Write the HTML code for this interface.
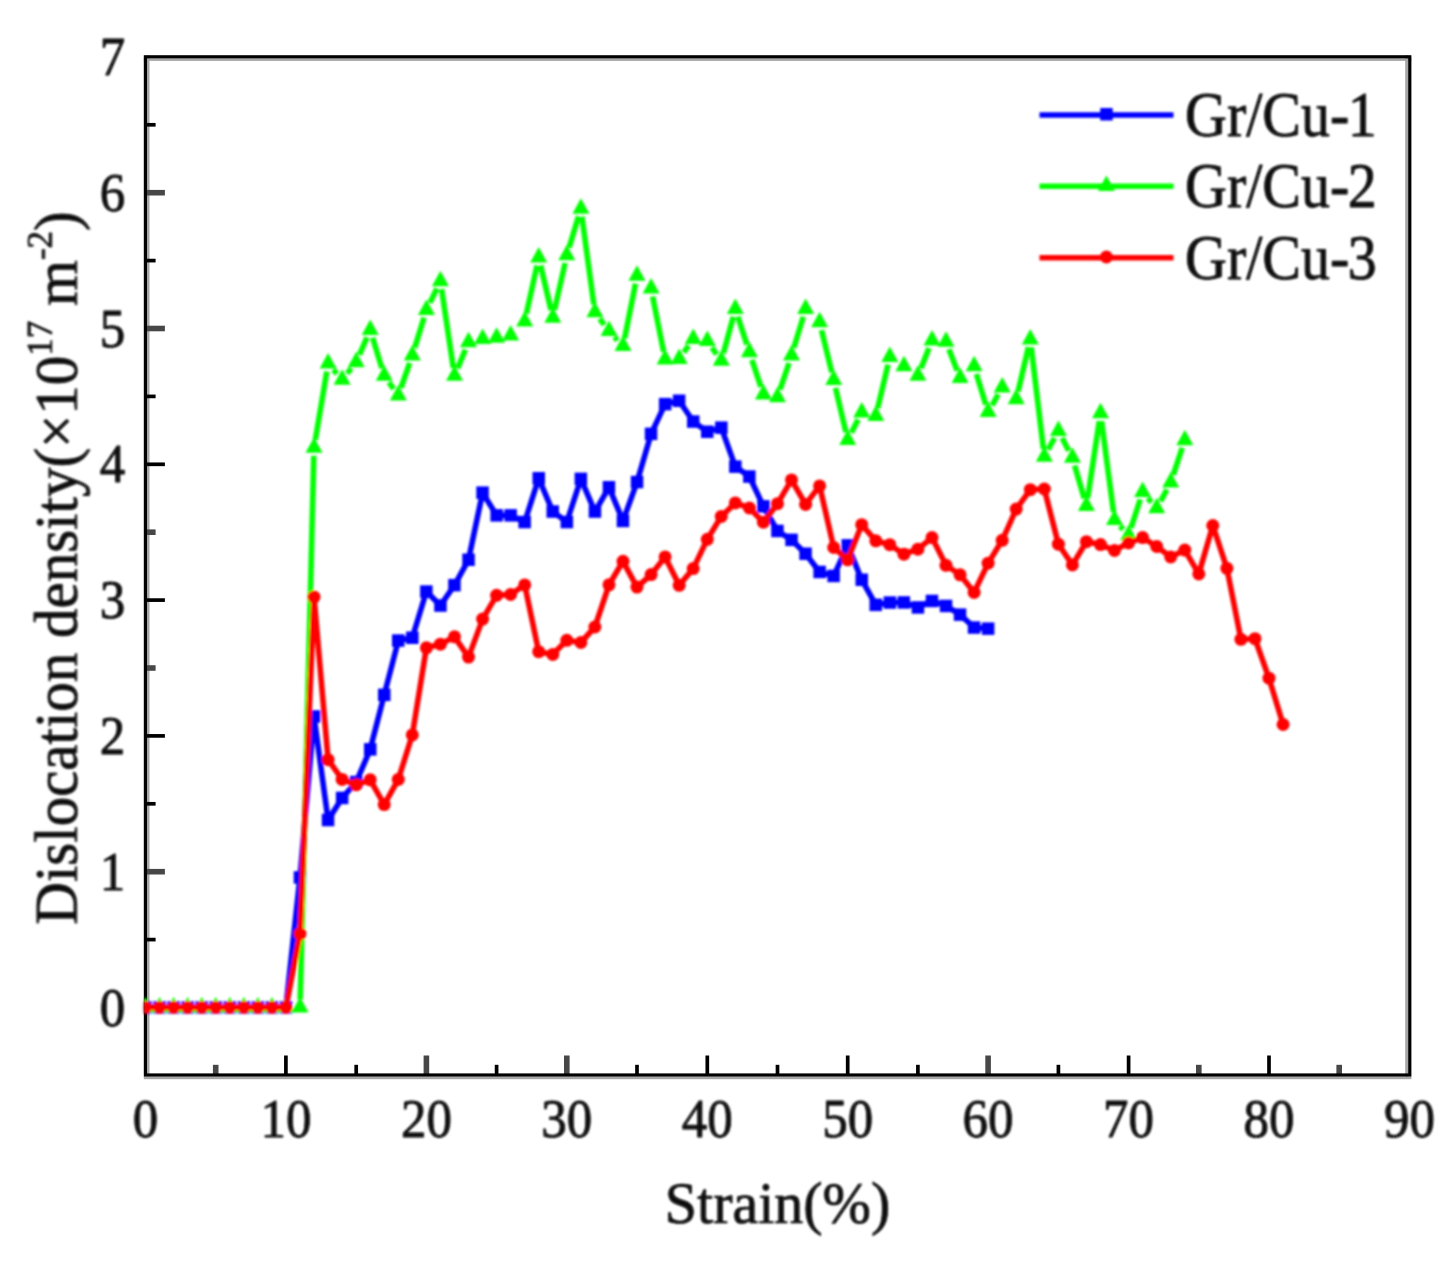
<!DOCTYPE html>
<html><head><meta charset="utf-8"><title>Dislocation density vs strain</title>
<style>
html,body{margin:0;padding:0;background:#fff;}
body{width:1449px;height:1262px;overflow:hidden;font-family:"Liberation Serif",serif;}
svg{display:block;}
svg text{font-family:"Liberation Serif",serif;fill:#080808;stroke:#080808;stroke-width:0.7px;stroke-linejoin:round;}
</style></head>
<body>
<svg width="1449" height="1262" viewBox="0 0 1449 1262">
<defs>
<clipPath id="pc"><rect x="143.8" y="55.2" width="1267.6000000000001" height="1021.3999999999999"/></clipPath>
<filter id="soft" x="0" y="0" width="1449" height="1262" filterUnits="userSpaceOnUse"><feGaussianBlur stdDeviation="1.0"/></filter>
<filter id="soft2" x="0" y="0" width="1449" height="1262" filterUnits="userSpaceOnUse"><feGaussianBlur stdDeviation="0.45"/></filter>
</defs>
<rect width="1449" height="1262" fill="#fff"/>
<g filter="url(#soft2)">
<rect x="147.0" y="55.2" width="2.5" height="1021.3999999999999" fill="#a6a6a6"/>
<rect x="1405.2" y="55.2" width="3.0" height="1021.3999999999999" fill="#a6a6a6"/>
<rect x="143.8" y="58.400000000000006" width="1267.6000000000001" height="2.5" fill="#a6a6a6"/>
<rect x="143.8" y="1076.6" width="1267.6000000000001" height="2.6" fill="#a6a6a6"/>
<line x1="215.7" y1="1075.0" x2="215.7" y2="1064.8" stroke="#474747" stroke-width="5.6"/>
<line x1="285.9" y1="1075.0" x2="285.9" y2="1055.5" stroke="#060606" stroke-width="3.7"/>
<line x1="356.2" y1="1075.0" x2="356.2" y2="1064.8" stroke="#060606" stroke-width="3.7"/>
<line x1="426.4" y1="1075.0" x2="426.4" y2="1055.5" stroke="#474747" stroke-width="5.6"/>
<line x1="496.6" y1="1075.0" x2="496.6" y2="1064.8" stroke="#060606" stroke-width="3.7"/>
<line x1="566.8" y1="1075.0" x2="566.8" y2="1055.5" stroke="#474747" stroke-width="5.6"/>
<line x1="637.0" y1="1075.0" x2="637.0" y2="1064.8" stroke="#060606" stroke-width="3.7"/>
<line x1="707.3" y1="1075.0" x2="707.3" y2="1055.5" stroke="#060606" stroke-width="3.7"/>
<line x1="777.5" y1="1075.0" x2="777.5" y2="1064.8" stroke="#060606" stroke-width="3.7"/>
<line x1="847.7" y1="1075.0" x2="847.7" y2="1055.5" stroke="#060606" stroke-width="3.7"/>
<line x1="917.9" y1="1075.0" x2="917.9" y2="1064.8" stroke="#060606" stroke-width="3.7"/>
<line x1="988.1" y1="1075.0" x2="988.1" y2="1055.5" stroke="#474747" stroke-width="5.6"/>
<line x1="1058.4" y1="1075.0" x2="1058.4" y2="1064.8" stroke="#060606" stroke-width="3.7"/>
<line x1="1128.6" y1="1075.0" x2="1128.6" y2="1055.5" stroke="#060606" stroke-width="3.7"/>
<line x1="1198.8" y1="1075.0" x2="1198.8" y2="1064.8" stroke="#474747" stroke-width="5.6"/>
<line x1="1269.0" y1="1075.0" x2="1269.0" y2="1055.5" stroke="#060606" stroke-width="3.7"/>
<line x1="1339.2" y1="1075.0" x2="1339.2" y2="1064.8" stroke="#474747" stroke-width="5.6"/>
<line x1="145.4" y1="1007.5" x2="164.9" y2="1007.5" stroke="#060606" stroke-width="3.7"/>
<line x1="145.4" y1="939.6" x2="155.6" y2="939.6" stroke="#060606" stroke-width="3.7"/>
<line x1="145.4" y1="871.7" x2="164.9" y2="871.7" stroke="#474747" stroke-width="5.6"/>
<line x1="145.4" y1="803.8" x2="155.6" y2="803.8" stroke="#060606" stroke-width="3.7"/>
<line x1="145.4" y1="735.9" x2="164.9" y2="735.9" stroke="#060606" stroke-width="3.7"/>
<line x1="145.4" y1="668.0" x2="155.6" y2="668.0" stroke="#474747" stroke-width="5.6"/>
<line x1="145.4" y1="600.1" x2="164.9" y2="600.1" stroke="#060606" stroke-width="3.7"/>
<line x1="145.4" y1="532.2" x2="155.6" y2="532.2" stroke="#474747" stroke-width="5.6"/>
<line x1="145.4" y1="464.3" x2="164.9" y2="464.3" stroke="#060606" stroke-width="3.7"/>
<line x1="145.4" y1="396.4" x2="155.6" y2="396.4" stroke="#060606" stroke-width="3.7"/>
<line x1="145.4" y1="328.5" x2="164.9" y2="328.5" stroke="#474747" stroke-width="5.6"/>
<line x1="145.4" y1="260.6" x2="155.6" y2="260.6" stroke="#060606" stroke-width="3.7"/>
<line x1="145.4" y1="192.7" x2="164.9" y2="192.7" stroke="#474747" stroke-width="5.6"/>
<line x1="145.4" y1="124.8" x2="155.6" y2="124.8" stroke="#060606" stroke-width="3.7"/>
<rect x="145.4" y="56.800000000000004" width="1264.4" height="1018.2" fill="none" stroke="#000" stroke-width="3.2"/>
</g>
<g filter="url(#soft)">
<g clip-path="url(#pc)">
<path d="M145.5 1007.5L159.5 1007.5M159.5 1007.5L173.6 1007.5M173.6 1007.5L187.6 1007.5M187.6 1007.5L201.7 1007.5M201.7 1007.5L215.7 1007.5M215.7 1007.5L229.8 1007.5M229.8 1007.5L243.8 1007.5M243.8 1007.5L257.9 1007.5M257.9 1007.5L271.9 1007.5M271.9 1007.5L285.9 1007.5M285.9 1007.5L300.0 877.4M300.0 877.4L314.0 716.5M314.0 716.5L328.1 820.1M328.1 820.1L342.1 798.0M342.1 798.0L356.2 782.1M356.2 782.1L370.2 749.3M370.2 749.3L384.2 694.9M384.2 694.9L398.3 640.6M398.3 640.6L412.3 637.7M412.3 637.7L426.4 591.5M426.4 591.5L440.4 605.5M440.4 605.5L454.5 585.2M454.5 585.2L468.5 559.8M468.5 559.8L482.6 492.7M482.6 492.7L496.6 515.4M496.6 515.4L510.6 515.4M510.6 515.4L524.7 522.0M524.7 522.0L538.7 478.3M538.7 478.3L552.8 511.6M552.8 511.6L566.8 522.0M566.8 522.0L580.9 478.8M580.9 478.8L594.9 511.6M594.9 511.6L609.0 487.3M609.0 487.3L623.0 520.9M623.0 520.9L637.0 482.1M637.0 482.1L651.1 433.9M651.1 433.9L665.1 404.1M665.1 404.1L679.2 400.7M679.2 400.7L693.2 421.5M693.2 421.5L707.3 431.7M707.3 431.7L721.3 427.6M721.3 427.6L735.3 466.6M735.3 466.6L749.4 476.5M749.4 476.5L763.4 506.4M763.4 506.4L777.5 531.0M777.5 531.0L791.5 539.8M791.5 539.8L805.6 553.8M805.6 553.8L819.6 572.0M819.6 572.0L833.7 575.9M833.7 575.9L847.7 545.4M847.7 545.4L861.7 579.7M861.7 579.7L875.8 604.9M875.8 604.9L889.8 602.5M889.8 602.5L903.9 602.4M903.9 602.4L917.9 607.4M917.9 607.4L932.0 600.9M932.0 600.9L946.0 605.9M946.0 605.9L960.1 614.6M960.1 614.6L974.1 627.5M974.1 627.5L988.1 628.6" fill="none" stroke="#0000ff" stroke-width="5.6" stroke-linecap="round"/>
<rect x="139.2" y="1001.2" width="12.5" height="12.5" fill="#0000ff"/>
<rect x="153.3" y="1001.2" width="12.5" height="12.5" fill="#0000ff"/>
<rect x="167.3" y="1001.2" width="12.5" height="12.5" fill="#0000ff"/>
<rect x="181.4" y="1001.2" width="12.5" height="12.5" fill="#0000ff"/>
<rect x="195.4" y="1001.2" width="12.5" height="12.5" fill="#0000ff"/>
<rect x="209.5" y="1001.2" width="12.5" height="12.5" fill="#0000ff"/>
<rect x="223.5" y="1001.2" width="12.5" height="12.5" fill="#0000ff"/>
<rect x="237.6" y="1001.2" width="12.5" height="12.5" fill="#0000ff"/>
<rect x="251.6" y="1001.2" width="12.5" height="12.5" fill="#0000ff"/>
<rect x="265.6" y="1001.2" width="12.5" height="12.5" fill="#0000ff"/>
<rect x="279.7" y="1001.2" width="12.5" height="12.5" fill="#0000ff"/>
<rect x="293.7" y="871.2" width="12.5" height="12.5" fill="#0000ff"/>
<rect x="307.8" y="710.2" width="12.5" height="12.5" fill="#0000ff"/>
<rect x="321.8" y="813.8" width="12.5" height="12.5" fill="#0000ff"/>
<rect x="335.9" y="791.7" width="12.5" height="12.5" fill="#0000ff"/>
<rect x="349.9" y="775.8" width="12.5" height="12.5" fill="#0000ff"/>
<rect x="364.0" y="743.1" width="12.5" height="12.5" fill="#0000ff"/>
<rect x="378.0" y="688.6" width="12.5" height="12.5" fill="#0000ff"/>
<rect x="392.0" y="634.3" width="12.5" height="12.5" fill="#0000ff"/>
<rect x="406.1" y="631.5" width="12.5" height="12.5" fill="#0000ff"/>
<rect x="420.1" y="585.3" width="12.5" height="12.5" fill="#0000ff"/>
<rect x="434.2" y="599.3" width="12.5" height="12.5" fill="#0000ff"/>
<rect x="448.2" y="578.9" width="12.5" height="12.5" fill="#0000ff"/>
<rect x="462.3" y="553.5" width="12.5" height="12.5" fill="#0000ff"/>
<rect x="476.3" y="486.4" width="12.5" height="12.5" fill="#0000ff"/>
<rect x="490.4" y="509.1" width="12.5" height="12.5" fill="#0000ff"/>
<rect x="504.4" y="509.1" width="12.5" height="12.5" fill="#0000ff"/>
<rect x="518.4" y="515.8" width="12.5" height="12.5" fill="#0000ff"/>
<rect x="532.5" y="472.0" width="12.5" height="12.5" fill="#0000ff"/>
<rect x="546.5" y="505.3" width="12.5" height="12.5" fill="#0000ff"/>
<rect x="560.6" y="515.8" width="12.5" height="12.5" fill="#0000ff"/>
<rect x="574.6" y="472.6" width="12.5" height="12.5" fill="#0000ff"/>
<rect x="588.7" y="505.3" width="12.5" height="12.5" fill="#0000ff"/>
<rect x="602.7" y="481.0" width="12.5" height="12.5" fill="#0000ff"/>
<rect x="616.7" y="514.7" width="12.5" height="12.5" fill="#0000ff"/>
<rect x="630.8" y="475.8" width="12.5" height="12.5" fill="#0000ff"/>
<rect x="644.8" y="427.6" width="12.5" height="12.5" fill="#0000ff"/>
<rect x="658.9" y="397.9" width="12.5" height="12.5" fill="#0000ff"/>
<rect x="672.9" y="394.5" width="12.5" height="12.5" fill="#0000ff"/>
<rect x="687.0" y="415.3" width="12.5" height="12.5" fill="#0000ff"/>
<rect x="701.0" y="425.5" width="12.5" height="12.5" fill="#0000ff"/>
<rect x="715.1" y="421.4" width="12.5" height="12.5" fill="#0000ff"/>
<rect x="729.1" y="460.4" width="12.5" height="12.5" fill="#0000ff"/>
<rect x="743.1" y="470.3" width="12.5" height="12.5" fill="#0000ff"/>
<rect x="757.2" y="500.1" width="12.5" height="12.5" fill="#0000ff"/>
<rect x="771.2" y="524.7" width="12.5" height="12.5" fill="#0000ff"/>
<rect x="785.3" y="533.6" width="12.5" height="12.5" fill="#0000ff"/>
<rect x="799.3" y="547.5" width="12.5" height="12.5" fill="#0000ff"/>
<rect x="813.4" y="565.7" width="12.5" height="12.5" fill="#0000ff"/>
<rect x="827.4" y="569.7" width="12.5" height="12.5" fill="#0000ff"/>
<rect x="841.5" y="539.1" width="12.5" height="12.5" fill="#0000ff"/>
<rect x="855.5" y="573.5" width="12.5" height="12.5" fill="#0000ff"/>
<rect x="869.5" y="598.6" width="12.5" height="12.5" fill="#0000ff"/>
<rect x="883.6" y="596.3" width="12.5" height="12.5" fill="#0000ff"/>
<rect x="897.6" y="596.2" width="12.5" height="12.5" fill="#0000ff"/>
<rect x="911.7" y="601.2" width="12.5" height="12.5" fill="#0000ff"/>
<rect x="925.7" y="594.7" width="12.5" height="12.5" fill="#0000ff"/>
<rect x="939.8" y="599.7" width="12.5" height="12.5" fill="#0000ff"/>
<rect x="953.8" y="608.4" width="12.5" height="12.5" fill="#0000ff"/>
<rect x="967.8" y="621.3" width="12.5" height="12.5" fill="#0000ff"/>
<rect x="981.9" y="622.4" width="12.5" height="12.5" fill="#0000ff"/>
<path d="M300.2 999.5L313.8 455.8M315.3 439.9L326.8 371.5M333.3 369.7L336.9 373.8M347.1 373.6L351.2 368.5M359.4 354.9L367.0 337.4M372.6 337.7L381.9 368.2M388.9 382.3L393.6 389.0M400.9 388.0L409.7 363.0M414.7 347.8L424.0 317.7M429.9 302.9L436.9 288.5M441.6 289.2L453.3 367.9M457.6 368.4L465.4 349.7M526.4 313.7L537.0 265.5M540.6 265.5L551.0 310.0M554.5 310.0L565.1 263.0M569.1 247.6L578.5 216.4M581.9 216.7L593.8 304.3M599.7 318.7L604.2 324.7M614.4 337.0L617.5 340.4M624.6 338.4L635.5 283.6M652.6 296.5L663.6 351.7M683.8 352.4L688.6 345.7M711.9 347.7L716.7 354.4M723.4 353.2L733.3 316.7M737.8 316.6L746.9 344.7M751.9 359.9L760.9 386.8M780.0 389.7L789.0 363.2M793.8 347.9L803.3 316.7M821.5 330.1L831.8 372.3M835.5 387.8L845.9 432.1M851.3 432.8L858.1 419.6M877.6 408.4L888.0 364.7M920.9 368.4L929.0 348.1M948.9 349.3L957.2 370.7M976.4 374.0L985.8 404.6M992.1 405.3L998.2 394.4M1018.1 391.5L1028.4 347.2M1031.2 347.4L1043.4 448.8M1048.1 449.7L1054.5 438.0M1062.1 438.0L1068.7 450.7M1074.6 465.5L1084.2 498.4M1087.6 498.1L1099.3 421.2M1101.5 421.2L1113.5 512.2M1120.0 526.0L1123.2 529.5M1131.0 527.8L1140.2 499.5M1147.8 498.0L1151.5 502.3M1160.5 501.3L1166.9 489.6M1173.2 475.0L1182.2 447.9" fill="none" stroke="#00ff00" stroke-width="5.6" stroke-linecap="butt"/>
<path d="M145.5 996.9L154.0 1012.4L137.0 1012.4Z" fill="#00ff00"/>
<path d="M159.5 996.9L168.0 1012.4L151.0 1012.4Z" fill="#00ff00"/>
<path d="M173.6 996.9L182.1 1012.4L165.1 1012.4Z" fill="#00ff00"/>
<path d="M187.6 996.9L196.1 1012.4L179.1 1012.4Z" fill="#00ff00"/>
<path d="M201.7 996.9L210.2 1012.4L193.2 1012.4Z" fill="#00ff00"/>
<path d="M215.7 996.9L224.2 1012.4L207.2 1012.4Z" fill="#00ff00"/>
<path d="M229.8 996.9L238.3 1012.4L221.3 1012.4Z" fill="#00ff00"/>
<path d="M243.8 996.9L252.3 1012.4L235.3 1012.4Z" fill="#00ff00"/>
<path d="M257.9 996.9L266.4 1012.4L249.4 1012.4Z" fill="#00ff00"/>
<path d="M271.9 996.9L280.4 1012.4L263.4 1012.4Z" fill="#00ff00"/>
<path d="M285.9 996.9L294.4 1012.4L277.4 1012.4Z" fill="#00ff00"/>
<path d="M300.0 996.9L308.5 1012.4L291.5 1012.4Z" fill="#00ff00"/>
<path d="M314.0 437.2L322.5 452.7L305.5 452.7Z" fill="#00ff00"/>
<path d="M328.1 353.0L336.6 368.5L319.6 368.5Z" fill="#00ff00"/>
<path d="M342.1 369.3L350.6 384.8L333.6 384.8Z" fill="#00ff00"/>
<path d="M356.2 351.7L364.7 367.2L347.7 367.2Z" fill="#00ff00"/>
<path d="M370.2 319.5L378.7 335.0L361.7 335.0Z" fill="#00ff00"/>
<path d="M384.2 365.3L392.7 380.8L375.7 380.8Z" fill="#00ff00"/>
<path d="M398.3 384.9L406.8 400.4L389.8 400.4Z" fill="#00ff00"/>
<path d="M412.3 344.9L420.8 360.4L403.8 360.4Z" fill="#00ff00"/>
<path d="M426.4 299.5L434.9 315.0L417.9 315.0Z" fill="#00ff00"/>
<path d="M440.4 270.7L448.9 286.2L431.9 286.2Z" fill="#00ff00"/>
<path d="M454.5 365.3L463.0 380.8L446.0 380.8Z" fill="#00ff00"/>
<path d="M468.5 331.7L477.0 347.2L460.0 347.2Z" fill="#00ff00"/>
<path d="M482.6 328.6L491.1 344.1L474.1 344.1Z" fill="#00ff00"/>
<path d="M496.6 327.2L505.1 342.7L488.1 342.7Z" fill="#00ff00"/>
<path d="M510.6 325.1L519.1 340.6L502.1 340.6Z" fill="#00ff00"/>
<path d="M524.7 310.9L533.2 326.4L516.2 326.4Z" fill="#00ff00"/>
<path d="M538.7 247.1L547.2 262.6L530.2 262.6Z" fill="#00ff00"/>
<path d="M552.8 307.3L561.3 322.8L544.3 322.8Z" fill="#00ff00"/>
<path d="M566.8 244.7L575.3 260.2L558.3 260.2Z" fill="#00ff00"/>
<path d="M580.9 198.2L589.4 213.7L572.4 213.7Z" fill="#00ff00"/>
<path d="M594.9 301.7L603.4 317.2L586.4 317.2Z" fill="#00ff00"/>
<path d="M609.0 320.6L617.5 336.1L600.5 336.1Z" fill="#00ff00"/>
<path d="M623.0 335.6L631.5 351.1L614.5 351.1Z" fill="#00ff00"/>
<path d="M637.0 265.2L645.5 280.7L628.5 280.7Z" fill="#00ff00"/>
<path d="M651.1 278.1L659.6 293.6L642.6 293.6Z" fill="#00ff00"/>
<path d="M665.1 349.0L673.6 364.5L656.6 364.5Z" fill="#00ff00"/>
<path d="M679.2 348.4L687.7 363.9L670.7 363.9Z" fill="#00ff00"/>
<path d="M693.2 328.6L701.7 344.1L684.7 344.1Z" fill="#00ff00"/>
<path d="M707.3 330.6L715.8 346.1L698.8 346.1Z" fill="#00ff00"/>
<path d="M721.3 350.3L729.8 365.8L712.8 365.8Z" fill="#00ff00"/>
<path d="M735.3 298.4L743.8 313.9L726.8 313.9Z" fill="#00ff00"/>
<path d="M749.4 341.8L757.9 357.3L740.9 357.3Z" fill="#00ff00"/>
<path d="M763.4 383.9L771.9 399.4L754.9 399.4Z" fill="#00ff00"/>
<path d="M777.5 386.7L786.0 402.2L769.0 402.2Z" fill="#00ff00"/>
<path d="M791.5 345.0L800.0 360.5L783.0 360.5Z" fill="#00ff00"/>
<path d="M805.6 298.4L814.1 313.9L797.1 313.9Z" fill="#00ff00"/>
<path d="M819.6 311.7L828.1 327.2L811.1 327.2Z" fill="#00ff00"/>
<path d="M833.7 369.5L842.2 385.0L825.2 385.0Z" fill="#00ff00"/>
<path d="M847.7 429.4L856.2 444.9L839.2 444.9Z" fill="#00ff00"/>
<path d="M861.7 401.9L870.2 417.4L853.2 417.4Z" fill="#00ff00"/>
<path d="M875.8 405.6L884.3 421.1L867.3 421.1Z" fill="#00ff00"/>
<path d="M889.8 346.4L898.3 361.9L881.3 361.9Z" fill="#00ff00"/>
<path d="M903.9 355.7L912.4 371.2L895.4 371.2Z" fill="#00ff00"/>
<path d="M917.9 365.3L926.4 380.8L909.4 380.8Z" fill="#00ff00"/>
<path d="M932.0 330.1L940.5 345.6L923.5 345.6Z" fill="#00ff00"/>
<path d="M946.0 331.3L954.5 346.8L937.5 346.8Z" fill="#00ff00"/>
<path d="M960.1 367.6L968.6 383.1L951.6 383.1Z" fill="#00ff00"/>
<path d="M974.1 355.7L982.6 371.2L965.6 371.2Z" fill="#00ff00"/>
<path d="M988.1 401.6L996.6 417.1L979.6 417.1Z" fill="#00ff00"/>
<path d="M1002.2 376.9L1010.7 392.4L993.7 392.4Z" fill="#00ff00"/>
<path d="M1016.2 388.7L1024.7 404.2L1007.7 404.2Z" fill="#00ff00"/>
<path d="M1030.3 328.9L1038.8 344.4L1021.8 344.4Z" fill="#00ff00"/>
<path d="M1044.3 446.2L1052.8 461.7L1035.8 461.7Z" fill="#00ff00"/>
<path d="M1058.4 420.4L1066.9 435.9L1049.9 435.9Z" fill="#00ff00"/>
<path d="M1072.4 447.3L1080.9 462.8L1063.9 462.8Z" fill="#00ff00"/>
<path d="M1086.4 495.5L1094.9 511.0L1077.9 511.0Z" fill="#00ff00"/>
<path d="M1100.5 402.7L1109.0 418.2L1092.0 418.2Z" fill="#00ff00"/>
<path d="M1114.5 509.6L1123.0 525.1L1106.0 525.1Z" fill="#00ff00"/>
<path d="M1128.6 524.8L1137.1 540.3L1120.1 540.3Z" fill="#00ff00"/>
<path d="M1142.6 481.4L1151.1 496.9L1134.1 496.9Z" fill="#00ff00"/>
<path d="M1156.7 497.8L1165.2 513.3L1148.2 513.3Z" fill="#00ff00"/>
<path d="M1170.7 472.0L1179.2 487.5L1162.2 487.5Z" fill="#00ff00"/>
<path d="M1184.8 429.8L1193.3 445.3L1176.3 445.3Z" fill="#00ff00"/>
<path d="M145.5 1007.5L159.5 1007.5M159.5 1007.5L173.6 1007.5M173.6 1007.5L187.6 1007.5M187.6 1007.5L201.7 1007.5M201.7 1007.5L215.7 1007.5M215.7 1007.5L229.8 1007.5M229.8 1007.5L243.8 1007.5M243.8 1007.5L257.9 1007.5M257.9 1007.5L271.9 1007.5M271.9 1007.5L285.9 1007.5M285.9 1007.5L300.0 933.8M300.0 933.8L314.0 597.1M314.0 597.1L328.1 759.7M328.1 759.7L342.1 779.4M342.1 779.4L356.2 784.8M356.2 784.8L370.2 779.8M370.2 779.8L384.2 804.6M384.2 804.6L398.3 779.4M398.3 779.4L412.3 734.9M412.3 734.9L426.4 647.8M426.4 647.8L440.4 644.2M440.4 644.2L454.5 636.8M454.5 636.8L468.5 657.1M468.5 657.1L482.6 619.1M482.6 619.1L496.6 595.3M496.6 595.3L510.6 594.5M510.6 594.5L524.7 584.9M524.7 584.9L538.7 651.7M538.7 651.7L552.8 654.4M552.8 654.4L566.8 640.3M566.8 640.3L580.9 642.5M580.9 642.5L594.9 627.0M594.9 627.0L609.0 584.8M609.0 584.8L623.0 561.3M623.0 561.3L637.0 587.1M637.0 587.1L651.1 574.6M651.1 574.6L665.1 556.9M665.1 556.9L679.2 585.3M679.2 585.3L693.2 568.6M693.2 568.6L707.3 539.3M707.3 539.3L721.3 516.4M721.3 516.4L735.3 502.9M735.3 502.9L749.4 508.0M749.4 508.0L763.4 522.2M763.4 522.2L777.5 503.7M777.5 503.7L791.5 479.9M791.5 479.9L805.6 504.4M805.6 504.4L819.6 485.9M819.6 485.9L833.7 547.5M833.7 547.5L847.7 559.8M847.7 559.8L861.7 524.7M861.7 524.7L875.8 540.8M875.8 540.8L889.8 544.7M889.8 544.7L903.9 554.2M903.9 554.2L917.9 549.2M917.9 549.2L932.0 537.6M932.0 537.6L946.0 565.3M946.0 565.3L960.1 574.8M960.1 574.8L974.1 592.4M974.1 592.4L988.1 563.2M988.1 563.2L1002.2 540.3M1002.2 540.3L1016.2 509.1M1016.2 509.1L1030.3 489.7M1030.3 489.7L1044.3 489.0M1044.3 489.0L1058.4 544.2M1058.4 544.2L1072.4 564.9M1072.4 564.9L1086.4 541.7M1086.4 541.7L1100.5 544.6M1100.5 544.6L1114.5 550.5M1114.5 550.5L1128.6 542.9M1128.6 542.9L1142.6 537.6M1142.6 537.6L1156.7 546.5M1156.7 546.5L1170.7 556.9M1170.7 556.9L1184.8 550.1M1184.8 550.1L1198.8 573.9M1198.8 573.9L1212.8 525.5M1212.8 525.5L1226.9 568.3M1226.9 568.3L1240.9 639.3M1240.9 639.3L1255.0 638.7M1255.0 638.7L1269.0 678.2M1269.0 678.2L1283.1 724.5" fill="none" stroke="#ff0000" stroke-width="5.6" stroke-linecap="round"/>
<circle cx="145.5" cy="1007.5" r="6.5" fill="#ff0000"/>
<circle cx="159.5" cy="1007.5" r="6.5" fill="#ff0000"/>
<circle cx="173.6" cy="1007.5" r="6.5" fill="#ff0000"/>
<circle cx="187.6" cy="1007.5" r="6.5" fill="#ff0000"/>
<circle cx="201.7" cy="1007.5" r="6.5" fill="#ff0000"/>
<circle cx="215.7" cy="1007.5" r="6.5" fill="#ff0000"/>
<circle cx="229.8" cy="1007.5" r="6.5" fill="#ff0000"/>
<circle cx="243.8" cy="1007.5" r="6.5" fill="#ff0000"/>
<circle cx="257.9" cy="1007.5" r="6.5" fill="#ff0000"/>
<circle cx="271.9" cy="1007.5" r="6.5" fill="#ff0000"/>
<circle cx="285.9" cy="1007.5" r="6.5" fill="#ff0000"/>
<circle cx="300.0" cy="933.8" r="6.5" fill="#ff0000"/>
<circle cx="314.0" cy="597.1" r="6.5" fill="#ff0000"/>
<circle cx="328.1" cy="759.7" r="6.5" fill="#ff0000"/>
<circle cx="342.1" cy="779.4" r="6.5" fill="#ff0000"/>
<circle cx="356.2" cy="784.8" r="6.5" fill="#ff0000"/>
<circle cx="370.2" cy="779.8" r="6.5" fill="#ff0000"/>
<circle cx="384.2" cy="804.6" r="6.5" fill="#ff0000"/>
<circle cx="398.3" cy="779.4" r="6.5" fill="#ff0000"/>
<circle cx="412.3" cy="734.9" r="6.5" fill="#ff0000"/>
<circle cx="426.4" cy="647.8" r="6.5" fill="#ff0000"/>
<circle cx="440.4" cy="644.2" r="6.5" fill="#ff0000"/>
<circle cx="454.5" cy="636.8" r="6.5" fill="#ff0000"/>
<circle cx="468.5" cy="657.1" r="6.5" fill="#ff0000"/>
<circle cx="482.6" cy="619.1" r="6.5" fill="#ff0000"/>
<circle cx="496.6" cy="595.3" r="6.5" fill="#ff0000"/>
<circle cx="510.6" cy="594.5" r="6.5" fill="#ff0000"/>
<circle cx="524.7" cy="584.9" r="6.5" fill="#ff0000"/>
<circle cx="538.7" cy="651.7" r="6.5" fill="#ff0000"/>
<circle cx="552.8" cy="654.4" r="6.5" fill="#ff0000"/>
<circle cx="566.8" cy="640.3" r="6.5" fill="#ff0000"/>
<circle cx="580.9" cy="642.5" r="6.5" fill="#ff0000"/>
<circle cx="594.9" cy="627.0" r="6.5" fill="#ff0000"/>
<circle cx="609.0" cy="584.8" r="6.5" fill="#ff0000"/>
<circle cx="623.0" cy="561.3" r="6.5" fill="#ff0000"/>
<circle cx="637.0" cy="587.1" r="6.5" fill="#ff0000"/>
<circle cx="651.1" cy="574.6" r="6.5" fill="#ff0000"/>
<circle cx="665.1" cy="556.9" r="6.5" fill="#ff0000"/>
<circle cx="679.2" cy="585.3" r="6.5" fill="#ff0000"/>
<circle cx="693.2" cy="568.6" r="6.5" fill="#ff0000"/>
<circle cx="707.3" cy="539.3" r="6.5" fill="#ff0000"/>
<circle cx="721.3" cy="516.4" r="6.5" fill="#ff0000"/>
<circle cx="735.3" cy="502.9" r="6.5" fill="#ff0000"/>
<circle cx="749.4" cy="508.0" r="6.5" fill="#ff0000"/>
<circle cx="763.4" cy="522.2" r="6.5" fill="#ff0000"/>
<circle cx="777.5" cy="503.7" r="6.5" fill="#ff0000"/>
<circle cx="791.5" cy="479.9" r="6.5" fill="#ff0000"/>
<circle cx="805.6" cy="504.4" r="6.5" fill="#ff0000"/>
<circle cx="819.6" cy="485.9" r="6.5" fill="#ff0000"/>
<circle cx="833.7" cy="547.5" r="6.5" fill="#ff0000"/>
<circle cx="847.7" cy="559.8" r="6.5" fill="#ff0000"/>
<circle cx="861.7" cy="524.7" r="6.5" fill="#ff0000"/>
<circle cx="875.8" cy="540.8" r="6.5" fill="#ff0000"/>
<circle cx="889.8" cy="544.7" r="6.5" fill="#ff0000"/>
<circle cx="903.9" cy="554.2" r="6.5" fill="#ff0000"/>
<circle cx="917.9" cy="549.2" r="6.5" fill="#ff0000"/>
<circle cx="932.0" cy="537.6" r="6.5" fill="#ff0000"/>
<circle cx="946.0" cy="565.3" r="6.5" fill="#ff0000"/>
<circle cx="960.1" cy="574.8" r="6.5" fill="#ff0000"/>
<circle cx="974.1" cy="592.4" r="6.5" fill="#ff0000"/>
<circle cx="988.1" cy="563.2" r="6.5" fill="#ff0000"/>
<circle cx="1002.2" cy="540.3" r="6.5" fill="#ff0000"/>
<circle cx="1016.2" cy="509.1" r="6.5" fill="#ff0000"/>
<circle cx="1030.3" cy="489.7" r="6.5" fill="#ff0000"/>
<circle cx="1044.3" cy="489.0" r="6.5" fill="#ff0000"/>
<circle cx="1058.4" cy="544.2" r="6.5" fill="#ff0000"/>
<circle cx="1072.4" cy="564.9" r="6.5" fill="#ff0000"/>
<circle cx="1086.4" cy="541.7" r="6.5" fill="#ff0000"/>
<circle cx="1100.5" cy="544.6" r="6.5" fill="#ff0000"/>
<circle cx="1114.5" cy="550.5" r="6.5" fill="#ff0000"/>
<circle cx="1128.6" cy="542.9" r="6.5" fill="#ff0000"/>
<circle cx="1142.6" cy="537.6" r="6.5" fill="#ff0000"/>
<circle cx="1156.7" cy="546.5" r="6.5" fill="#ff0000"/>
<circle cx="1170.7" cy="556.9" r="6.5" fill="#ff0000"/>
<circle cx="1184.8" cy="550.1" r="6.5" fill="#ff0000"/>
<circle cx="1198.8" cy="573.9" r="6.5" fill="#ff0000"/>
<circle cx="1212.8" cy="525.5" r="6.5" fill="#ff0000"/>
<circle cx="1226.9" cy="568.3" r="6.5" fill="#ff0000"/>
<circle cx="1240.9" cy="639.3" r="6.5" fill="#ff0000"/>
<circle cx="1255.0" cy="638.7" r="6.5" fill="#ff0000"/>
<circle cx="1269.0" cy="678.2" r="6.5" fill="#ff0000"/>
<circle cx="1283.1" cy="724.5" r="6.5" fill="#ff0000"/>
</g>
<text transform="translate(145.5,1136.8) scale(1,1.08)" font-size="51" text-anchor="middle">0</text>
<text transform="translate(285.9,1136.8) scale(1,1.08)" font-size="51" text-anchor="middle">10</text>
<text transform="translate(426.4,1136.8) scale(1,1.08)" font-size="51" text-anchor="middle">20</text>
<text transform="translate(566.8,1136.8) scale(1,1.08)" font-size="51" text-anchor="middle">30</text>
<text transform="translate(707.3,1136.8) scale(1,1.08)" font-size="51" text-anchor="middle">40</text>
<text transform="translate(847.7,1136.8) scale(1,1.08)" font-size="51" text-anchor="middle">50</text>
<text transform="translate(988.1,1136.8) scale(1,1.08)" font-size="51" text-anchor="middle">60</text>
<text transform="translate(1128.6,1136.8) scale(1,1.08)" font-size="51" text-anchor="middle">70</text>
<text transform="translate(1269.0,1136.8) scale(1,1.08)" font-size="51" text-anchor="middle">80</text>
<text transform="translate(1409.5,1136.8) scale(1,1.08)" font-size="51" text-anchor="middle">90</text>
<text transform="translate(125.3,1025.5) scale(1,1.08)" font-size="51" text-anchor="end">0</text>
<text transform="translate(125.3,889.7) scale(1,1.08)" font-size="51" text-anchor="end">1</text>
<text transform="translate(125.3,753.9) scale(1,1.08)" font-size="51" text-anchor="end">2</text>
<text transform="translate(125.3,618.1) scale(1,1.08)" font-size="51" text-anchor="end">3</text>
<text transform="translate(125.3,482.3) scale(1,1.08)" font-size="51" text-anchor="end">4</text>
<text transform="translate(125.3,346.5) scale(1,1.08)" font-size="51" text-anchor="end">5</text>
<text transform="translate(125.3,210.7) scale(1,1.08)" font-size="51" text-anchor="end">6</text>
<text transform="translate(125.3,74.9) scale(1,1.08)" font-size="51" text-anchor="end">7</text>
<text transform="translate(777.5,1222.8) scale(1,1.03)" font-size="58" text-anchor="middle">Strain(%)</text>
<text transform="translate(76.5,568) rotate(-90) scale(1,1.03)" font-size="59" text-anchor="middle">Dislocation density(×10<tspan font-size="35" dy="-24">17</tspan><tspan dy="24" font-size="59"> m</tspan><tspan font-size="35" dy="-24">-2</tspan><tspan dy="24" font-size="59">)</tspan></text>
<path d="M1039.5 115L1173.5 115" stroke="#0000ff" stroke-width="5.6" fill="none"/><rect x="1100.2" y="108.0" width="12.5" height="12.5" fill="#0000ff"/>
<path d="M1039.5 186.2L1173.5 186.2" stroke="#00ff00" stroke-width="5.6" fill="none"/><path d="M1106.4 175.6L1114.9 191.1L1097.9 191.1Z" fill="#00ff00"/>
<path d="M1039.5 257.8L1173.5 257.8" stroke="#ff0000" stroke-width="5.6" fill="none"/><circle cx="1106.4" cy="257.0" r="6.5" fill="#ff0000"/>
<text transform="translate(1185.0,136.2) scale(1,1.08)" font-size="58" text-anchor="start">Gr/Cu-<tspan dx="-1.5">1</tspan></text>
<text transform="translate(1185.0,207.4) scale(1,1.08)" font-size="58" text-anchor="start">Gr/Cu-<tspan dx="-1.5">2</tspan></text>
<text transform="translate(1185.0,279.0) scale(1,1.08)" font-size="58" text-anchor="start">Gr/Cu-<tspan dx="-1.5">3</tspan></text>
</g>
</svg>
</body></html>
